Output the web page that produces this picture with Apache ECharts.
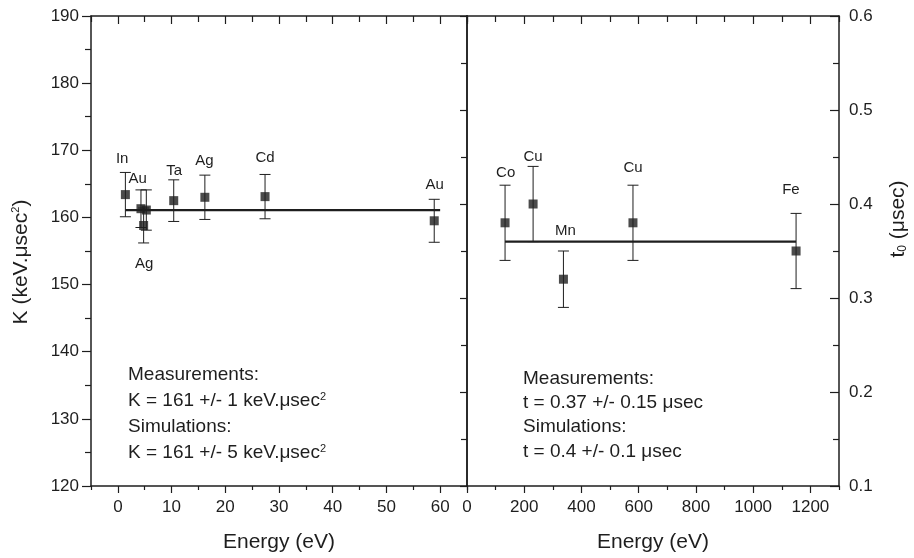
<!DOCTYPE html>
<html><head><meta charset="utf-8">
<script src="https://cdn.jsdelivr.net/npm/echarts@6/dist/echarts.min.js"></script>
<style>html,body{margin:0;padding:0;background:#fff}#c{width:914px;height:558px}</style>
</head><body><div id="c"></div>
<script>
// ---- Left panel data (K vs energy in eV) ----
const leftEnergy = [1.4, 4.3, 5.3, 4.8, 10.4, 16.2, 27.4, 58.9];
const leftK      = [163.4, 161.3, 161.1, 158.8, 162.5, 163.0, 163.1, 159.5];
const leftKErr   = [3.3, 2.8, 3.0, 2.6, 3.1, 3.3, 3.3, 3.2];
const leftFitX   = [1.4, 60];
const leftFitK   = [161.1, 161.1];
const leftLabelNames = ['In', 'Au', 'Ag', 'Ta', 'Ag', 'Cd', 'Au'];
const leftLabelX     = [0.8, 3.7, 4.9, 10.5, 16.1, 27.4, 59.0];
const leftLabelY     = [168.7, 165.7, 153.1, 167.0, 168.4, 168.9, 164.8];
const leftMajorTicks = [0, 10, 20, 30, 40, 50, 60];
const leftMinorTicks = [-5, 5, 15, 25, 35, 45, 55, 65];

// ---- Right panel data (t0 vs energy in eV) ----
const rightEnergy = [133, 231, 337, 580, 1150];
const rightT      = [0.38, 0.40, 0.32, 0.38, 0.35];
const rightTErr   = [0.04, 0.04, 0.03, 0.04, 0.04];
const rightFitX   = [133, 1150];
const rightFitT   = [0.36, 0.36];
const rightLabelNames = ['Co', 'Cu', 'Mn', 'Cu', 'Fe'];
const rightLabelX     = [135, 231, 344, 580, 1132];
const rightLabelY     = [0.433, 0.45, 0.371, 0.438, 0.415];
const rightMajorTicks = [0, 200, 400, 600, 800, 1000, 1200];
const rightMinorTicks = [100, 300, 500, 700, 900, 1100, 1300];

const FONT = '"Liberation Sans", Arial, sans-serif';
const INK = '#1e1e1e';

const chart = echarts.init(document.getElementById('c'));

function errRender(params, api) {
  const x = api.value(0), lo = api.value(1), hi = api.value(2);
  const p1 = api.coord([x, lo]), p2 = api.coord([x, hi]);
  const w = 5.5;
  const style = { stroke: INK, lineWidth: 1 };
  return { type: 'group', children: [
    { type: 'line', shape: { x1: p1[0], y1: p1[1], x2: p2[0], y2: p2[1] }, style },
    { type: 'line', shape: { x1: p1[0] - w, y1: p1[1], x2: p1[0] + w, y2: p1[1] }, style },
    { type: 'line', shape: { x1: p2[0] - w, y1: p2[1], x2: p2[0] + w, y2: p2[1] }, style }
  ]};
}

const lineStyle = { color: INK, width: 1.5 };
const tickStyle = { color: INK, width: 1.2 };

function xAxes(grid, min, max, major, minor) {
  const base = { gridIndex: grid, type: 'value', min, max, splitLine: { show: false } };
  return [
    Object.assign({}, base, {
      position: 'bottom',
      axisLine: { show: true, onZero: false, lineStyle },
      axisTick: { show: true, customValues: major, length: 7, lineStyle: tickStyle },
      axisLabel: { show: true, customValues: major, fontSize: 17, fontFamily: FONT, color: INK, margin: 13,
        formatter: v => String(v) },
      name: 'Energy (eV)', nameLocation: 'middle', nameGap: 46,
      nameTextStyle: { fontSize: 21, fontFamily: FONT, color: INK }
    }),
    Object.assign({}, base, {
      position: 'bottom',
      axisLine: { show: false, onZero: false },
      axisTick: { show: true, customValues: minor, length: 4, lineStyle: tickStyle },
      axisLabel: { show: false }
    }),
    Object.assign({}, base, {
      position: 'top',
      axisLine: { show: true, onZero: false, lineStyle },
      axisTick: { show: true, inside: true, customValues: major, length: 8, lineStyle: tickStyle },
      axisLabel: { show: false }
    }),
    Object.assign({}, base, {
      position: 'top',
      axisLine: { show: false, onZero: false },
      axisTick: { show: true, inside: true, customValues: minor, length: 6, lineStyle: tickStyle },
      axisLabel: { show: false }
    })
  ];
}

const xAxisList = [].concat(
  xAxes(0, -5, 65, leftMajorTicks, leftMinorTicks),
  xAxes(1, 0, 1300, rightMajorTicks, rightMinorTicks)
);

const yAxisList = [
  { gridIndex: 0, type: 'value', position: 'left', min: 120, max: 190, interval: 10,
    splitLine: { show: false },
    axisLine: { show: true, onZero: false, lineStyle },
    axisTick: { show: true, length: 9, lineStyle: tickStyle },
    minorTick: { show: true, splitNumber: 2, length: 6, lineStyle: tickStyle },
    axisLabel: { fontSize: 17, fontFamily: FONT, color: INK, margin: 12 } },
  { gridIndex: 0, type: 'value', position: 'right', min: 120, max: 190, interval: 10,
    splitLine: { show: false },
    axisLine: { show: true, onZero: false, lineStyle },
    axisTick: { show: false }, axisLabel: { show: false } },
  { gridIndex: 1, type: 'value', position: 'right', min: 0.1, max: 0.6, interval: 0.1,
    splitLine: { show: false },
    axisLine: { show: true, onZero: false, lineStyle },
    axisTick: { show: true, inside: true, length: 9, lineStyle: tickStyle },
    minorTick: { show: true, splitNumber: 2, length: 6, lineStyle: tickStyle },
    axisLabel: { fontSize: 17, fontFamily: FONT, color: INK, margin: 10, formatter: v => v.toFixed(1) } },
  { gridIndex: 1, type: 'value', position: 'left', min: 0.1, max: 0.6, interval: 0.1,
    splitLine: { show: false },
    axisLine: { show: true, onZero: false, lineStyle },
    axisTick: { show: true, length: 7, lineStyle: tickStyle },
    minorTick: { show: true, splitNumber: 2, length: 6, lineStyle: tickStyle },
    axisLabel: { show: false } }
];

const leftErrData = leftEnergy.map((x, i) => [x, leftK[i] - leftKErr[i], leftK[i] + leftKErr[i]]);
const rightErrData = rightEnergy.map((x, i) => [x, rightT[i] - rightTErr[i], rightT[i] + rightTErr[i]]);
const labelCfg = { show: true, position: 'inside', formatter: p => p.value[2], fontSize: 15, fontFamily: FONT,
  color: INK, opacity: 1 };

const series = [
  { type: 'custom', xAxisIndex: 0, yAxisIndex: 0, renderItem: errRender, encode: { x: 0, y: [1, 2] }, data: leftErrData, z: 2 },
  { type: 'line', xAxisIndex: 0, yAxisIndex: 0, data: leftFitX.map((x, i) => [x, leftFitK[i]]), symbol: 'none',
    lineStyle: { color: INK, width: 2.3 }, z: 3 },
  { type: 'scatter', xAxisIndex: 0, yAxisIndex: 0, data: leftEnergy.map((x, i) => [x, leftK[i]]), symbol: 'rect', symbolSize: 9,
    itemStyle: { color: INK }, z: 4 },
  { type: 'scatter', xAxisIndex: 0, yAxisIndex: 0, data: leftLabelX.map((x, i) => [x, leftLabelY[i], leftLabelNames[i]]),
    symbolSize: 1, itemStyle: { color: 'rgba(0,0,0,0)' }, label: labelCfg, z: 5 },

  { type: 'custom', xAxisIndex: 4, yAxisIndex: 2, renderItem: errRender, encode: { x: 0, y: [1, 2] }, data: rightErrData, z: 2 },
  { type: 'line', xAxisIndex: 4, yAxisIndex: 2, data: rightFitX.map((x, i) => [x, rightFitT[i]]), symbol: 'none',
    lineStyle: { color: INK, width: 2.3 }, z: 3 },
  { type: 'scatter', xAxisIndex: 4, yAxisIndex: 2, data: rightEnergy.map((x, i) => [x, rightT[i]]), symbol: 'rect', symbolSize: 9,
    itemStyle: { color: INK }, z: 4 },
  { type: 'scatter', xAxisIndex: 4, yAxisIndex: 2, data: rightLabelX.map((x, i) => [x, rightLabelY[i], rightLabelNames[i]]),
    symbolSize: 1, itemStyle: { color: 'rgba(0,0,0,0)' }, label: labelCfg, z: 5 }
];

function txt(x, y, text, size, extra) {
  return {
    type: 'text', x, y, z: 100,
    style: Object.assign({
      text, fontSize: size, fontFamily: FONT, fill: INK,
      textAlign: 'left', textVerticalAlign: 'middle', align: 'left', verticalAlign: 'middle',
      rich: {
        sup: { fontSize: 11, fontFamily: FONT, fill: INK, verticalAlign: 'top' },
        sub: { fontSize: 12, fontFamily: FONT, fill: INK, verticalAlign: 'bottom' }
      }
    }, extra || {})
  };
}

const graphic = [
  txt(128, 375, 'Measurements:', 19),
  txt(128, 401, 'K = 161 +/- 1 keV.\u03BCsec{sup|2}', 19),
  txt(128, 427, 'Simulations:', 19),
  txt(128, 453, 'K = 161 +/- 5 keV.\u03BCsec{sup|2}', 19),
  txt(523, 379, 'Measurements:', 19),
  txt(523, 403, 't = 0.37 +/- 0.15 \u03BCsec', 19),
  txt(523, 427, 'Simulations:', 19),
  txt(523, 452, 't = 0.4 +/- 0.1 \u03BCsec', 19),
  Object.assign(txt(21, 262, 'K (keV.\u03BCsec{sup|2})', 21, { textAlign: 'center', align: 'center' }), { rotation: Math.PI / 2 }),
  Object.assign(txt(898, 219, 't{sub|0} (\u03BCsec)', 21, { textAlign: 'center', align: 'center' }), { rotation: Math.PI / 2 })
];

chart.setOption({
  animation: false,
  backgroundColor: '#fff',
  textStyle: { fontFamily: FONT },
  grid: [
    { left: 91, top: 16, width: 376, height: 470 },
    { left: 467, top: 16, width: 372, height: 470 }
  ],
  xAxis: xAxisList,
  yAxis: yAxisList,
  series,
  graphic
});
</script>
</body></html>
